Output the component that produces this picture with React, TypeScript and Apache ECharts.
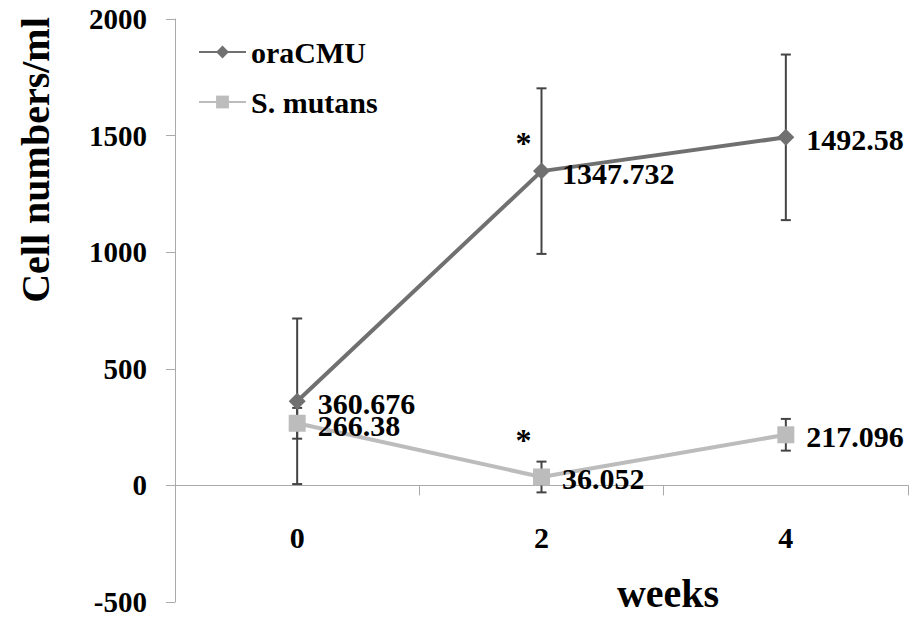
import React, { useEffect, useRef } from "react";
import * as echarts from "echarts";

const weeks = ["0", "2", "4"];
const oraCMU = [360.676, 1347.732, 1492.58];
const oraCMUErr = [355, 355, 355];
const sMutans = [266.38, 36.052, 217.096];
const sMutansErr = [66, 66, 68];
const asterisks = [
  [1, 1470],
  [1, 195],
];
const yTicks = { min: -500, max: 2000, interval: 500 };

const FONT = "Liberation Serif";

export default function App() {
  const ref = useRef<HTMLDivElement>(null);
  useEffect(() => {
    if (!ref.current) return;
    const chart = echarts.init(ref.current, null, { renderer: "svg" });
    const errData = (vals: number[], errs: number[]) =>
      vals.map((v, i) => [i, v - errs[i], v + errs[i]]);
    const errSeries = (name: string, vals: number[], errs: number[]) => ({
      type: "custom",
      name: name + " err",
      z: 1,
      silent: true,
      data: errData(vals, errs),
      encode: { x: 0, y: [1, 2] },
      renderItem: (params: any, api: any) => {
        const x = api.value(0);
        const lo = api.coord([x, api.value(1)]);
        const hi = api.coord([x, api.value(2)]);
        const st = { stroke: "#444", lineWidth: 2 };
        const cw = 5;
        return {
          type: "group",
          children: [
            { type: "line", shape: { x1: lo[0], y1: lo[1], x2: hi[0], y2: hi[1] }, style: st },
            { type: "line", shape: { x1: lo[0] - cw, y1: lo[1], x2: lo[0] + cw, y2: lo[1] }, style: st },
            { type: "line", shape: { x1: hi[0] - cw, y1: hi[1], x2: hi[0] + cw, y2: hi[1] }, style: st },
          ],
        };
      },
    });
    const labelStyle = {
      show: true,
      position: "right",
      distance: 12,
      color: "#000",
      fontFamily: FONT,
      fontWeight: "bold",
      fontSize: 30,
      lineHeight: 24,
    };
    chart.setOption({
      animation: false,
      backgroundColor: "#fff",
      grid: { left: 175, right: 2, top: 19, bottom: 16, containLabel: false, outerBoundsMode: "none" },
      legend: {
        orient: "vertical",
        left: 193,
        top: 32,
        itemWidth: 47,
        itemHeight: 16,
        itemGap: 20,
        itemTextGap: 4,
        data: ["oraCMU", "S. mutans"],
        textStyle: { fontFamily: FONT, fontWeight: "bold", fontSize: 30, color: "#000" },
      },
      xAxis: {
        type: "category",
        data: weeks,
        boundaryGap: true,
        axisLine: { onZero: true, lineStyle: { color: "#aaa", width: 1 } },
        axisTick: { show: true, length: 10, lineStyle: { color: "#aaa" } },
        axisLabel: { margin: -80, fontFamily: FONT, fontWeight: "bold", fontSize: 30, color: "#000" },
        splitLine: { show: false },
      },
      yAxis: {
        type: "value",
        min: yTicks.min,
        max: yTicks.max,
        interval: yTicks.interval,
        axisLine: { show: true, lineStyle: { color: "#aaa", width: 1 } },
        axisTick: { show: true, length: 9, lineStyle: { color: "#aaa" } },
        axisLabel: {
          margin: 28,
          fontFamily: FONT,
          fontWeight: "bold",
          fontSize: 29,
          lineHeight: 22,
          color: "#000",
          formatter: (v: number) => String(v),
        },
        splitLine: { show: false },
      },
      graphic: [
        {
          type: "text",
          x: 35,
          y: 160,
          rotation: Math.PI / 2,
          style: {
            text: "Cell numbers/ml",
            fontFamily: FONT,
            fontWeight: "bold",
            fontSize: 40,
            fill: "#000",
            align: "center",
            verticalAlign: "middle",
          },
        },
        {
          type: "text",
          x: 668,
          y: 593,
          style: {
            text: "weeks",
            fontFamily: FONT,
            fontWeight: "bold",
            fontSize: 40,
            fill: "#000",
            align: "center",
            verticalAlign: "middle",
          },
        },
      ],
      series: [
        errSeries("oraCMU", oraCMU, oraCMUErr),
        errSeries("S. mutans", sMutans, sMutansErr),
        {
          type: "line",
          name: "oraCMU",
          data: oraCMU,
          z: 3,
          symbol: "diamond",
          symbolSize: 17,
          color: "#707070",
          lineStyle: { color: "#707070", width: 4 },
          itemStyle: { color: "#707070" },
          label: { ...labelStyle, offset: [0, 2], formatter: (p: any) => String(p.value) },
        },
        {
          type: "line",
          name: "S. mutans",
          data: sMutans,
          z: 2,
          symbol: "rect",
          symbolSize: 17,
          color: "#bcbcbc",
          lineStyle: { color: "#bcbcbc", width: 4 },
          itemStyle: { color: "#bcbcbc" },
          label: { ...labelStyle, offset: [0, 2], formatter: (p: any) => String(p.value) },
        },
        {
          type: "custom",
          name: "asterisk",
          z: 4,
          silent: true,
          data: asterisks,
          encode: { x: 0, y: 1 },
          renderItem: (params: any, api: any) => {
            const c = api.coord([api.value(0), api.value(1)]);
            return {
              type: "text",
              x: c[0] - 18,
              y: c[1],
              style: {
                text: "*",
                fontFamily: FONT,
                fontWeight: "bold",
                fontSize: 32,
                fill: "#000",
                align: "center",
                verticalAlign: "middle",
              },
            };
          },
        },
      ],
    });
    return () => chart.dispose();
  }, []);
  return <div ref={ref} style={{ width: 910, height: 618, position: "absolute", left: 0, top: 0 }} />;
}
